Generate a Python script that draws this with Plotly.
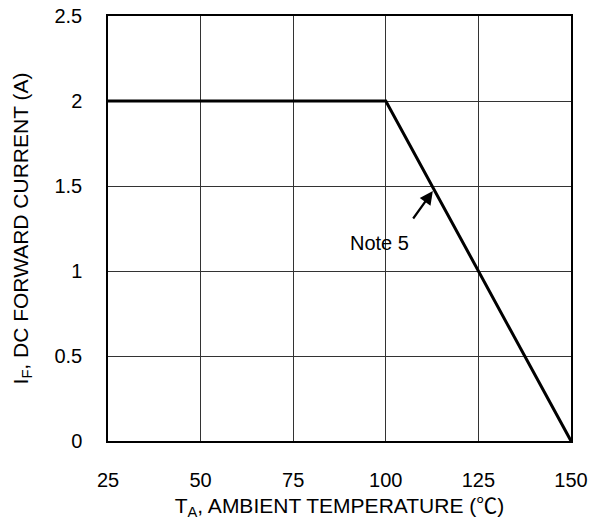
import plotly.graph_objects as go

temps = [25, 100, 150]
current = [2.0, 2.0, 0.0]
x_ticks = [25, 50, 75, 100, 125, 150]
y_ticks = [0, 0.5, 1, 1.5, 2, 2.5]
y_tick_labels = ["0", "0.5", "1", "1.5", "2", "2.5"]
note_text = "Note 5"
note_tip = (112.7, 1.47)
note_tail = (107.1, 1.30)
note_label = (98.4, 1.165)

FONT = "Liberation Sans, Arial, sans-serif"
FS = 20
TFS = 21

fig = go.Figure()
fig.add_trace(go.Scatter(x=temps, y=current, mode="lines",
                         line=dict(color="black", width=3), showlegend=False,
                         hoverinfo="skip"))

fig.add_annotation(x=note_tip[0], y=note_tip[1], ax=note_tail[0], ay=note_tail[1],
                   xref="x", yref="y", axref="x", ayref="y", text="",
                   showarrow=True, arrowhead=2, arrowsize=1.2, arrowwidth=2.2,
                   arrowcolor="black")
fig.add_annotation(x=note_label[0], y=note_label[1], xref="x", yref="y",
                   text=note_text, showarrow=False,
                   font=dict(family=FONT, size=FS, color="black"))

fig.update_layout(
    width=605, height=520,
    margin=dict(l=108, r=34, t=16, b=79),
    paper_bgcolor="white", plot_bgcolor="white",
    font=dict(family=FONT, size=FS, color="black"),
)
fig.update_xaxes(range=[25, 150], tickvals=x_ticks, ticktext=[str(v) for v in x_ticks],
                 showgrid=True, gridcolor="#333333", gridwidth=1,
                 showline=True, linecolor="black", linewidth=1.5, mirror=True,
                 zeroline=False, ticks="", ticklabelstandoff=20, automargin=False,
                 title=dict(text="T<sub>A</sub>, AMBIENT TEMPERATURE (<span style=\"font-family:'Noto Sans CJK JP'\">℃</span>)",
                            standoff=4, font=dict(size=TFS)))
fig.update_yaxes(range=[0, 2.5], tickvals=y_ticks, ticktext=y_tick_labels,
                 showgrid=True, gridcolor="#333333", gridwidth=1,
                 showline=True, linecolor="black", linewidth=1.5, mirror=True,
                 zeroline=False, ticks="", ticklabelstandoff=20, automargin=False,
                 title=dict(text="I<sub>F</sub>, DC FORWARD CURRENT (A)", standoff=20,
                            font=dict(size=TFS)))

fig.write_html("out.html")
